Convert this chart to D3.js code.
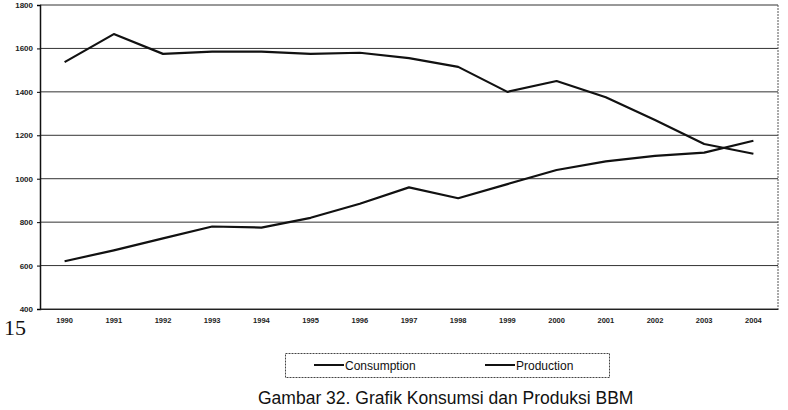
<!DOCTYPE html>
<html>
<head>
<meta charset="utf-8">
<script src="https://cdn.jsdelivr.net/npm/d3@7"></script>
<style>
  body { margin: 0; background: #fff; }
  svg { display: block; }
  .tick text { font-family: Arial, "Liberation Sans", sans-serif; }
</style>
</head>
<body>
<svg id="chart" width="788" height="410"></svg>
<script>
// years on the category axis
let years = ["1990", "1991", "1992", "1993", "1994", "1995", "1996", "1997",
             "1998", "1999", "2000", "2001", "2002", "2003", "2004"];

// series values
let production = [1537, 1666, 1575, 1585, 1585, 1575, 1580, 1555,
                  1515, 1400, 1450, 1375, 1270, 1160, 1115];
let consumption = [620, 670, 725, 780, 775, 820, 885, 960,
                   910, 975, 1040, 1080, 1105, 1120, 1175];

let yTicks = [400, 600, 800, 1000, 1200, 1400, 1600, 1800];
let legendNames = ["Consumption", "Production"];

let svg = d3.select("#chart");

let plotLeft = 40, plotRight = 778, plotTop = 5, plotBottom = 309;

let xScale = d3.scaleBand()
    .domain(years)
    .range([plotLeft, plotRight]);

let yScale = d3.scaleLinear()
    .domain([400, 1800])
    .range([plotBottom, plotTop]);

// gridlines
svg.append("g")
    .selectAll("line")
    .data(yTicks)
    .enter()
    .append("line")
    .attr("x1", plotLeft)
    .attr("x2", plotRight)
    .attr("y1", d => yScale(d))
    .attr("y2", d => yScale(d))
    .attr("stroke", "#333")
    .attr("stroke-width", 1);

// right border (dotted, like the scan)
svg.append("line")
    .attr("x1", plotRight).attr("x2", plotRight)
    .attr("y1", plotTop).attr("y2", plotBottom)
    .attr("stroke", "#555")
    .attr("stroke-dasharray", "2,1");

// y axis
let gYAxis = svg.append("g")
    .attr("transform", "translate(" + plotLeft + ",0)")
    .call(d3.axisLeft(yScale).tickValues(yTicks).tickFormat(d3.format("d"))
        .tickSize(3).tickPadding(4));
gYAxis.select(".domain").attr("stroke", "#111").attr("stroke-width", 1.5);
gYAxis.selectAll("text").attr("font-size", 8).attr("font-weight", "bold").attr("fill", "#222");

// x axis
let gXAxis = svg.append("g")
    .attr("transform", "translate(0," + plotBottom + ")")
    .call(d3.axisBottom(xScale).tickSize(0).tickPadding(9));
gXAxis.select(".domain").attr("stroke", "#222");
gXAxis.selectAll("text").attr("font-size", 7.5).attr("font-weight", "bold").attr("fill", "#222");

let line = d3.line()
    .x((d, i) => xScale(years[i]) + xScale.bandwidth() / 2)
    .y(d => yScale(d));

[consumption, production].forEach(series => {
    svg.append("path")
        .datum(series)
        .attr("d", line)
        .attr("fill", "none")
        .attr("stroke", "#111")
        .attr("stroke-width", 2.2)
        .attr("stroke-linejoin", "round");
});

// page number
svg.append("text")
    .attr("x", 4)
    .attr("y", 335)
    .attr("font-family", "'Liberation Serif', 'Times New Roman', serif")
    .attr("font-size", 22)
    .attr("fill", "#111")
    .text("15");

// legend
let legend = svg.append("g");
legend.append("rect")
    .attr("x", 285.5).attr("y", 353.5)
    .attr("width", 324).attr("height", 24)
    .attr("fill", "none")
    .attr("stroke", "#444")
    .attr("stroke-dasharray", "2,1");

let legendX = [314, 485];
legendNames.forEach((name, i) => {
    legend.append("line")
        .attr("x1", legendX[i]).attr("x2", legendX[i] + 30)
        .attr("y1", 365).attr("y2", 365)
        .attr("stroke", "#111")
        .attr("stroke-width", 2);
    legend.append("text")
        .attr("x", legendX[i] + 31)
        .attr("y", 369.5)
        .attr("font-family", "Arial, 'Liberation Sans', sans-serif")
        .attr("font-size", 12)
        .attr("fill", "#111")
        .text(name);
});

// caption (in the scan it runs off the bottom edge; kept whole here)
svg.append("text")
    .attr("x", 258)
    .attr("y", 404)
    .attr("font-family", "Arial, 'Liberation Sans', sans-serif")
    .attr("font-size", 17.5)
    .attr("fill", "#111")
    .text("Gambar 32. Grafik Konsumsi dan Produksi BBM");
</script>
</body>
</html>
